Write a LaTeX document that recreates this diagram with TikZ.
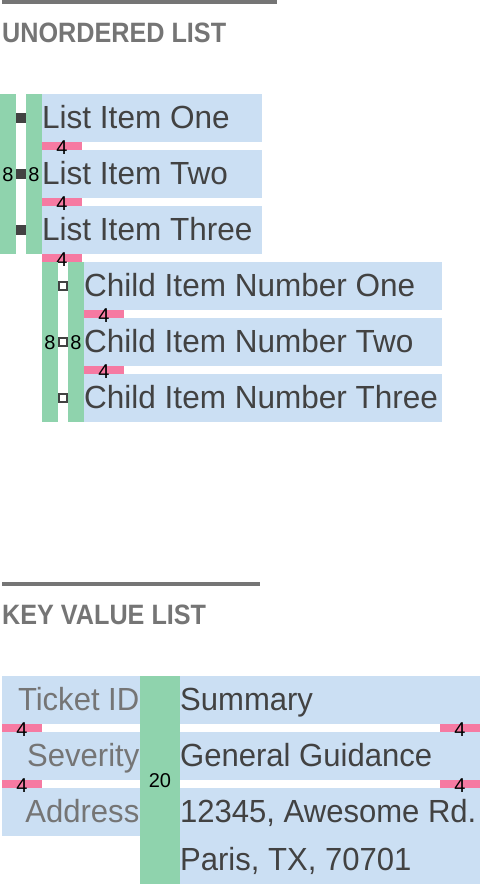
\documentclass[tikz,border=0pt]{standalone}
\usepackage{fontspec}
\setmainfont{Liberation Sans}
\newfontfamily\headfont[FakeStretch=0.9]{Liberation Sans}
\newfontfamily\valfont[FakeStretch=0.97]{Liberation Sans}
\newfontfamily\itemfont[FakeStretch=0.985]{Liberation Sans}
\definecolor{rowblue}{RGB}{203,223,243}
\definecolor{padgreen}{RGB}{143,211,173}
\definecolor{marpink}{RGB}{246,122,162}
\definecolor{textdark}{RGB}{66,66,66}
\definecolor{textgray}{RGB}{117,117,117}
\tikzset{
  rowbox/.style={fill=rowblue},
  padbar/.style={fill=padgreen},
  gapbar/.style={fill=marpink},
  rulebar/.style={fill=textgray},
  heading/.style={anchor=base west, inner sep=0pt, text=textgray, font=\headfont\bfseries\fontsize{28}{28}\selectfont},
  itemtext/.style={anchor=base west, inner sep=0pt, text=textdark, font=\itemfont\fontsize{32}{32}\selectfont},
  valtext/.style={anchor=base west, inner sep=0pt, text=textdark, font=\valfont\fontsize{32}{32}\selectfont},
  keytext/.style={anchor=base east, inner sep=0pt, text=textgray, font=\valfont\fontsize{32}{32}\selectfont},
  dimlabel/.style={inner sep=0pt, text=black, font=\fontsize{20}{20}\selectfont},
  solidbullet/.style={fill=textdark},
  hollowbullet/.style={draw=textdark, fill=white, line width=2pt}
}
\begin{document}
\begin{tikzpicture}[x=1pt,y=-1pt]
\useasboundingbox (0,0) rectangle (480,884);
% ---------- Unordered list ----------
\fill[rulebar] (2,0) rectangle (277,4);
\node[heading] (h1) at (2,42.5) {UNORDERED LIST};
% padding bars
\fill[padbar] (0,94) rectangle (16,254);
\fill[padbar] (26,94) rectangle (42,254);
% rows
\fill[rowbox] (42,94) rectangle (262,142);
\fill[rowbox] (42,150) rectangle (262,198);
\fill[rowbox] (42,206) rectangle (262,254);
% bullets
\fill[solidbullet] (16,113) rectangle (26,123);
\fill[solidbullet] (16,169) rectangle (26,179);
\fill[solidbullet] (16,225) rectangle (26,235);
% gaps
\fill[gapbar] (42,142) rectangle (82,150);
\fill[gapbar] (42,198) rectangle (82,206);
\fill[gapbar] (42,254) rectangle (82,262);
\node[itemtext] (l1) at (42,128) {List Item One};
\node[itemtext] (l2) at (42,184) {List Item Two};
\node[itemtext] (l3) at (42,240) {List Item Three};
\node[dimlabel] (g1) at (62,147.5) {4};
\node[dimlabel] (g2) at (62,203.5) {4};
\node[dimlabel] (g3) at (62,259.5) {4};
\node[dimlabel] (p1) at (8,175) {8};
\node[dimlabel] (p2) at (34,175) {8};
% child list
\fill[padbar] (42,262) rectangle (58,422);
\fill[padbar] (68,262) rectangle (84,422);
\fill[rowbox] (84,262) rectangle (442,310);
\fill[rowbox] (84,318) rectangle (442,366);
\fill[rowbox] (84,374) rectangle (442,422);
\draw[hollowbullet] (59,282) rectangle (67,290);
\draw[hollowbullet] (59,338) rectangle (67,346);
\draw[hollowbullet] (59,394) rectangle (67,402);
\fill[gapbar] (84,310) rectangle (124,318);
\fill[gapbar] (84,366) rectangle (124,374);
\node[itemtext] (c1) at (84,296) {Child Item Number One};
\node[itemtext] (c2) at (84,352) {Child Item Number Two};
\node[itemtext] (c3) at (84,408) {Child Item Number Three};
\node[dimlabel] (cg1) at (104,315.5) {4};
\node[dimlabel] (cg2) at (104,371.5) {4};
\node[dimlabel] (cp1) at (50,343) {8};
\node[dimlabel] (cp2) at (76,343) {8};
% ---------- Key value list ----------
\fill[rulebar] (2,582) rectangle (260,586);
\node[heading] (h2) at (2,624) {KEY VALUE LIST};
\fill[rowbox] (2,676) rectangle (140,724);
\fill[rowbox] (2,732) rectangle (140,780);
\fill[rowbox] (2,788) rectangle (140,836);
\fill[padbar] (140,676) rectangle (180,884);
\fill[rowbox] (180,676) rectangle (480,724);
\fill[rowbox] (180,732) rectangle (480,780);
\fill[rowbox] (180,788) rectangle (480,884);
\fill[gapbar] (2,724) rectangle (42,732);
\fill[gapbar] (2,780) rectangle (42,788);
\fill[gapbar] (440,724) rectangle (480,732);
\fill[gapbar] (440,780) rectangle (480,788);
\node[keytext] (k1) at (139.5,710) {Ticket ID};
\node[keytext] (k2) at (139.5,766) {Severity};
\node[keytext] (k3) at (139.5,822) {Address};
\node[valtext] (v1) at (180,710) {Summary};
\node[valtext] (v2) at (180,766) {General Guidance};
\node[valtext] (v3) at (180,822) {12345, Awesome Rd.};
\node[valtext] (v4) at (180,870) {Paris, TX, 70701};
\node[dimlabel] (kg1) at (22,729.5) {4};
\node[dimlabel] (kg2) at (22,785.5) {4};
\node[dimlabel] (kg3) at (460,729.5) {4};
\node[dimlabel] (kg4) at (460,785.5) {4};
\node[dimlabel] (kp) at (160,781) {20};
\end{tikzpicture}
\end{document}
